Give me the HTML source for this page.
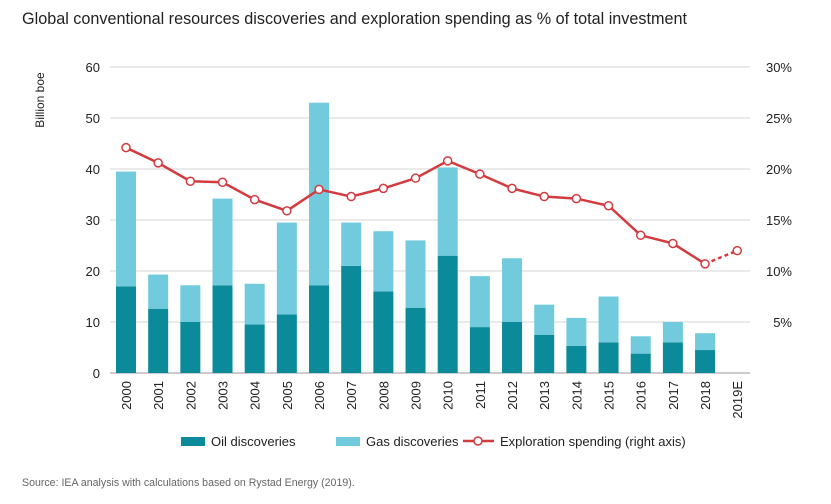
<!DOCTYPE html>
<html><head><meta charset="utf-8">
<style>
body{margin:0;background:#fff;font-family:"Liberation Sans",sans-serif;}
svg text{font-family:"Liberation Sans",sans-serif;fill:#222;}
</style></head>
<body>
<svg width="831" height="499" xmlns="http://www.w3.org/2000/svg">
<text x="22" y="24" font-size="16.2">Global conventional resources discoveries and exploration spending as % of total investment</text>
<text transform="translate(44,100) rotate(-90)" font-size="12" text-anchor="middle">Billion boe</text>
<g id="grid"></g>
<g id="bars"></g>
<g id="line"></g>
<g id="xlabels"></g>
<g>
<rect x="181" y="437" width="24" height="9" fill="#0b8a9a"/>
<text x="211" y="446" font-size="13">Oil discoveries</text>
<rect x="336" y="437" width="24" height="9" fill="#72cbdc"/>
<text x="366" y="446" font-size="13">Gas discoveries</text>
<line x1="463" y1="441" x2="494" y2="441" stroke="#d23b3f" stroke-width="2.5"/>
<circle cx="478" cy="441" r="4" fill="#fff" stroke="#d23b3f" stroke-width="1.5"/>
<text x="500" y="446" font-size="13">Exploration spending (right axis)</text>
</g>
<text x="22" y="486" font-size="10.6" fill="#666" style="fill:#666">Source: IEA analysis with calculations based on Rystad Energy (2019).</text>
</svg>
<script>
const categories=["2000","2001","2002","2003","2004","2005","2006","2007","2008","2009","2010","2011","2012","2013","2014","2015","2016","2017","2018","2019E"];
const oil=[17,12.6,10,17.2,9.5,11.5,17.2,21,16,12.8,23,9,10,7.5,5.3,6,3.8,6,4.5,null];
const gas=[22.5,6.7,7.2,17,8,18,35.8,8.5,11.8,13.2,17.3,10,12.5,5.9,5.5,9,3.4,4,3.3,null];
const spending=[22.1,20.6,18.8,18.7,17.0,15.9,18.0,17.3,18.1,19.1,20.8,19.5,18.1,17.3,17.1,16.4,13.5,12.7,10.7,12.0];
const leftTicks=[0,10,20,30,40,50,60];
const rightTicks=["","5%","10%","15%","20%","25%","30%"];
const NS="http://www.w3.org/2000/svg";
const y0=373,y1=67,xL=110,xR=750;
const yL=v=>y0-(v/60)*(y0-y1);
const yR=v=>y0-(v/30)*(y0-y1);
const step=32.17;
const xC=i=>126+i*step;
function mk(tag,attrs,parent,txt){const e=document.createElementNS(NS,tag);for(const k in attrs)e.setAttribute(k,attrs[k]);if(txt!==undefined)e.textContent=txt;parent.appendChild(e);return e;}
const grid=document.getElementById('grid');
leftTicks.forEach((t,i)=>{
 const y=yL(t);
 const l=mk('line',{x1:xL,x2:xR,y1:y,y2:y,stroke:i===0?'#999':'#d6d6d6','stroke-width':1},grid);
 
 
 const a=mk('text',{x:100,y:y+5,'font-size':13,'text-anchor':'end'},grid,String(t));
 
 
 const b=mk('text',{x:792,y:y+5,'font-size':13,'text-anchor':'end'},grid,rightTicks[i]);
 
 
});
const bars=document.getElementById('bars');
const bw=20;
categories.forEach((c,i)=>{
 if(oil[i]!==null){
  const r=mk('rect',{x:xC(i)-bw/2,y:yL(oil[i]),width:bw,height:y0-yL(oil[i]),fill:'#0b8a9a'},bars);
  
  
  const g=mk('rect',{x:xC(i)-bw/2,y:yL(oil[i]+gas[i]),width:bw,height:yL(oil[i])-yL(oil[i]+gas[i]),fill:'#72cbdc'},bars);
  
  
 }
 const t=mk('text',{transform:`translate(${xC(i)+5},381) rotate(-90)`,'font-size':13,'text-anchor':'end'},document.getElementById('xlabels'),c);
 
 
});
const line=document.getElementById('line');
const n=spending.length;
const solid=spending.slice(0,n-1).map((v,i)=>xC(i)+','+yR(v)).join(' ');
const pl=mk('polyline',{points:solid,fill:'none',stroke:'#d23b3f','stroke-width':2.5},line);


const dl=mk('line',{x1:xC(n-2),y1:yR(spending[n-2]),x2:xC(n-1),y2:yR(spending[n-1]),stroke:'#d23b3f','stroke-width':2.5,'stroke-dasharray':'4,3'},line);


spending.forEach((v,i)=>{
 const c=mk('circle',{cx:xC(i),cy:yR(v),r:4,fill:'#fff',stroke:'#d23b3f','stroke-width':1.5},line);
 
 
});
</script>
</body></html>
